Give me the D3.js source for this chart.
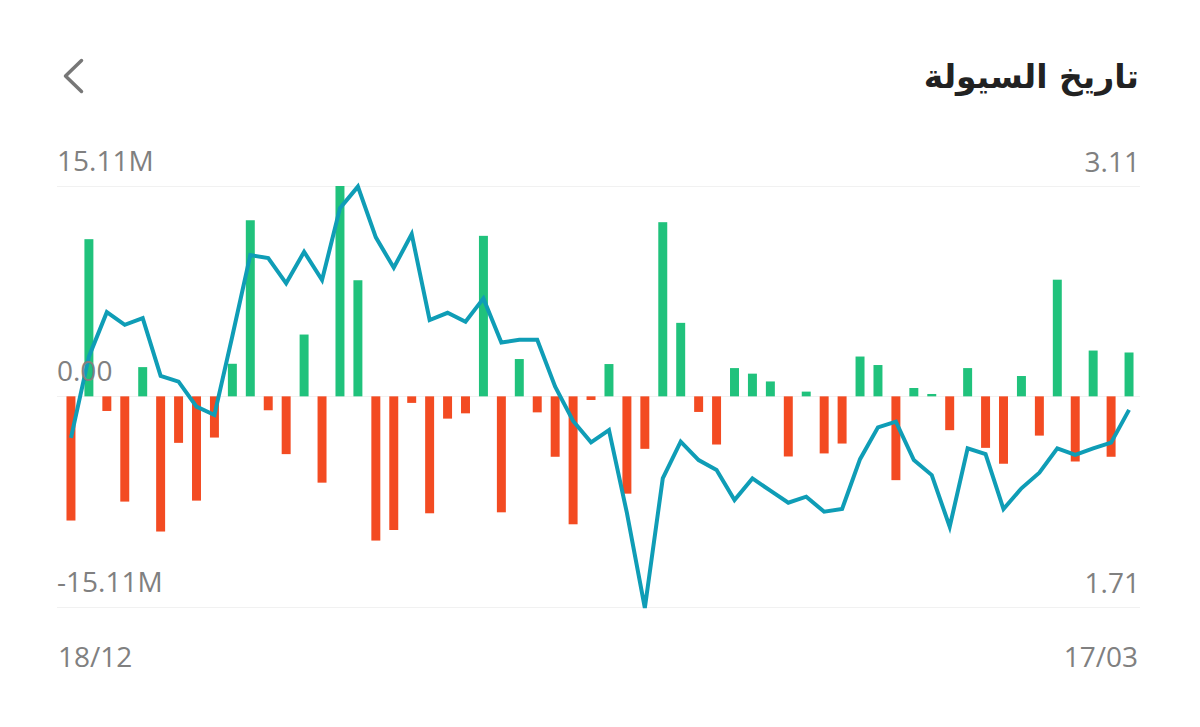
<!DOCTYPE html>
<html>
<head>
<meta charset="utf-8">
<script src="https://cdn.jsdelivr.net/npm/d3@7"></script>
<style>
  html, body { margin: 0; padding: 0; background: #fff; }
  svg { display: block; }
</style>
</head>
<body>
<div id="chart"></div>
<script>
// net liquidity per day, millions (positive = inflow)
const flows = [
  -8.92, 11.29, -1.05, -7.56, 2.10, -9.71, -3.34, -7.49, -2.96, 2.34,
  12.65, -1.00, -4.15, 4.44, -6.20, 15.11, 8.34, -10.36, -9.60, -0.47,
  -8.40, -1.60, -1.22, 11.53, -8.33, 2.68, -1.15, -4.34, -9.19, -0.26,
  2.32, -6.99, -3.77, 12.51, 5.28, -1.12, -3.46, 2.03, 1.63, 1.07,
  -4.32, 0.34, -4.10, -3.39, 2.86, 2.25, -6.02, 0.60, 0.17, -2.43,
  2.03, -3.70, -4.84, 1.46, -2.82, 8.38, -4.68, 3.29, -4.34, 3.15
];

// closing price
const price = [
  2.272, 2.542, 2.690, 2.648, 2.670, 2.478, 2.459, 2.376, 2.348, 2.611,
  2.880, 2.870, 2.786, 2.891, 2.797, 3.036, 3.108, 2.939, 2.838, 2.950,
  2.664, 2.688, 2.658, 2.736, 2.589, 2.598, 2.598, 2.442, 2.328, 2.257,
  2.298, 2.022, 1.706, 2.137, 2.259, 2.198, 2.165, 2.065, 2.137, 2.096,
  2.056, 2.076, 2.026, 2.035, 2.201, 2.307, 2.326, 2.198, 2.148, 1.976,
  2.237, 2.218, 2.035, 2.104, 2.156, 2.237, 2.215, 2.237, 2.256, 2.365
];

const flowTicks = [15.11, 0, -15.11];
const flowLabels = ['15.11M', '0.00', '-15.11M'];
const priceTicks = [3.11, 1.71];
const dateLabels = ['18/12', '17/03'];
const title = 'تاريخ السيولة';

const W = 1200, H = 727;
const left = 57, right = 1140;
const font = '"Open Sans", "Liberation Sans", Arial, sans-serif';

const svg = d3.select('#chart')
  .append('svg')
  .attr('width', W)
  .attr('height', H);

const x = d3.scaleBand()
  .domain(d3.range(flows.length))
  .range([62, 1138])
  .paddingInner(0.5)
  .paddingOuter(0.25);

const y = d3.scaleLinear().domain([-15.11, 15.11]).range([606.7, 186]);
const y2 = d3.scaleLinear().domain([1.71, 3.11]).range([606.7, 186]);

// header
svg.append('path')
  .attr('d', 'M81.5,60.5 L65.5,76 L81.5,91.5')
  .attr('fill', 'none')
  .attr('stroke', '#777')
  .attr('stroke-width', 3.5)
  .attr('stroke-linecap', 'round')
  .attr('stroke-linejoin', 'round');

svg.append('text')
  .attr('x', 1139)
  .attr('y', 88)
  .attr('text-anchor', 'end')
  .style('font-family', '"DejaVu Sans", sans-serif')
  .style('font-weight', 'bold')
  .style('font-size', '33px')
  .style('fill', '#222')
  .text(title);

// grid
svg.append('g')
  .selectAll('line')
  .data(flowTicks)
  .enter()
  .append('line')
  .attr('x1', left)
  .attr('x2', right)
  .attr('y1', (d) => Math.round(y(d)) + 0.5)
  .attr('y2', (d) => Math.round(y(d)) + 0.5)
  .style('stroke', '#f1f1f1')
  .style('stroke-width', 1);

// bars
svg.append('g')
  .selectAll('rect')
  .data(flows)
  .enter()
  .append('rect')
  .attr('x', (d, i) => x(i))
  .attr('width', x.bandwidth())
  .attr('y', (d) => (d >= 0 ? y(d) : y(0)))
  .attr('height', (d) => Math.abs(y(d) - y(0)))
  .style('fill', (d) => (d >= 0 ? '#20c27c' : '#f34b22'));

// price line
const line = d3.line()
  .x((d, i) => x(i) + x.bandwidth() / 2)
  .y((d) => y2(d));

svg.append('path')
  .datum(price)
  .attr('d', line)
  .attr('fill', 'none')
  .attr('stroke', '#0f9db6')
  .attr('stroke-width', 4)
  .attr('stroke-linejoin', 'miter');

// left labels
svg.append('g')
  .selectAll('text')
  .data(flowTicks)
  .enter()
  .append('text')
  .attr('x', left)
  .attr('y', (d) => y(d) - 15)
  .style('font-family', font)
  .style('font-size', '28px')
  .style('fill', '#808080')
  .text((d, i) => flowLabels[i]);

// right labels
svg.append('g')
  .selectAll('text')
  .data(priceTicks)
  .enter()
  .append('text')
  .attr('x', right)
  .attr('y', (d) => y2(d) - 14)
  .attr('text-anchor', 'end')
  .style('font-family', font)
  .style('font-size', '28px')
  .style('fill', '#808080')
  .text((d) => d.toFixed(2));

// date labels
svg.append('g')
  .selectAll('text')
  .data(dateLabels)
  .enter()
  .append('text')
  .attr('x', (d, i) => (i === 0 ? 58 : 1138))
  .attr('y', 667)
  .attr('text-anchor', (d, i) => (i === 0 ? 'start' : 'end'))
  .style('font-family', font)
  .style('font-size', '28px')
  .style('fill', '#808080')
  .text((d) => d);
</script>
</body>
</html>
